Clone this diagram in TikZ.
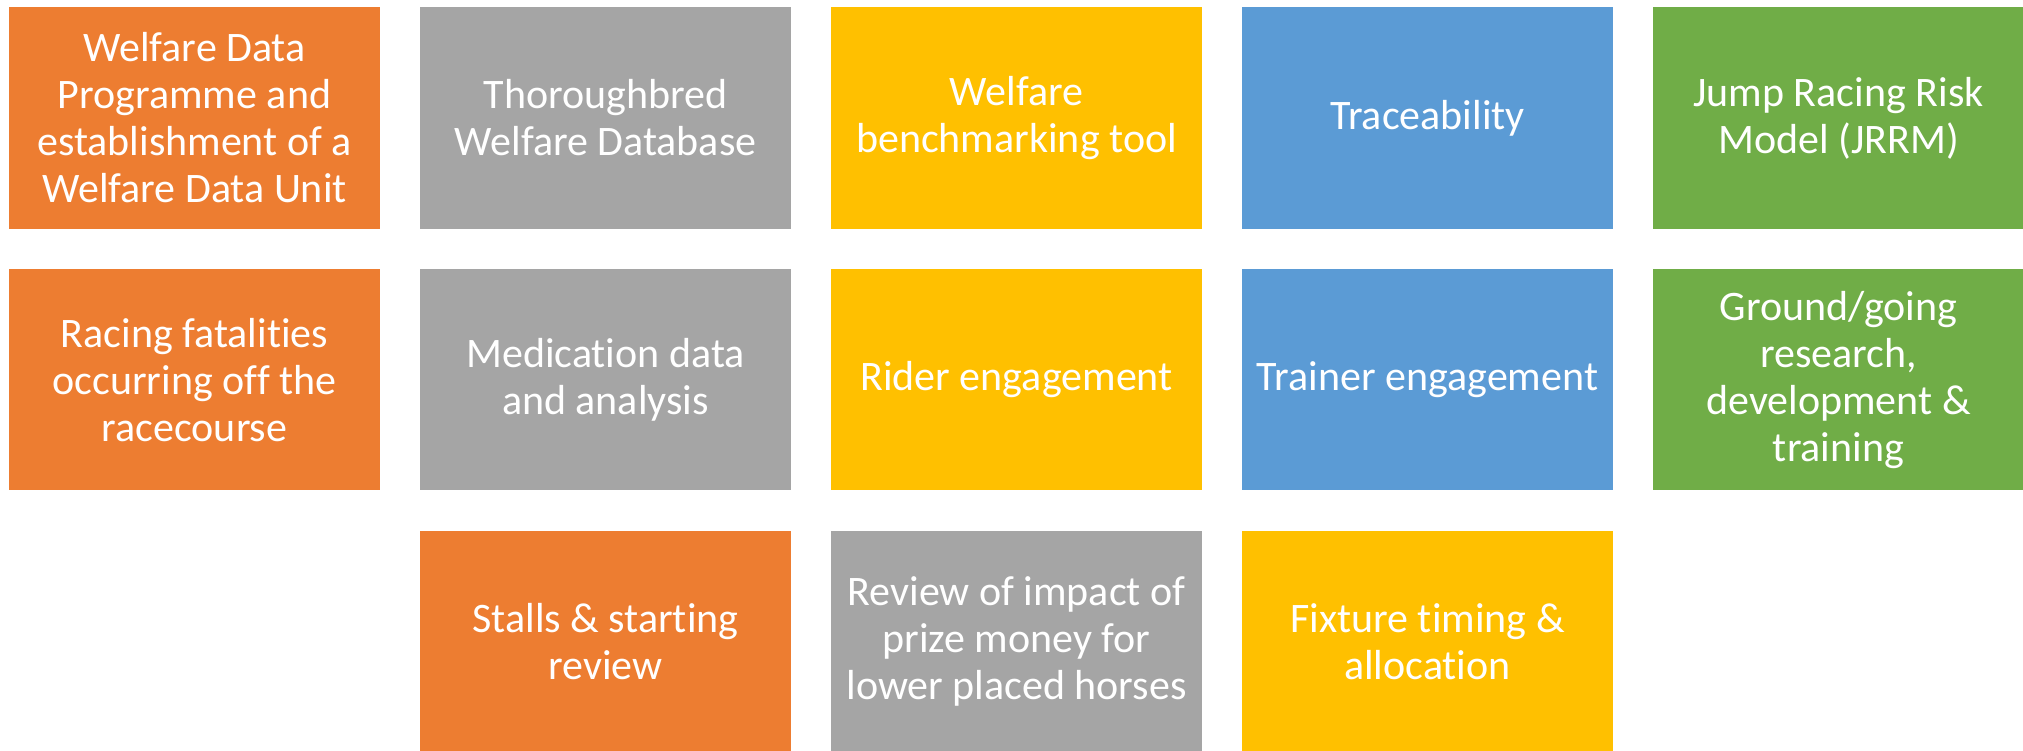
\documentclass[tikz,border=0pt]{standalone}
\usepackage{fontspec}
\setmainfont[Ligatures=NoCommon]{Carlito}
\definecolor{cOrange}{HTML}{ED7D31}
\definecolor{cGray}{HTML}{A5A5A5}
\definecolor{cYellow}{HTML}{FFC000}
\definecolor{cBlue}{HTML}{5B9BD5}
\definecolor{cGreen}{HTML}{70AD47}
\tikzset{
  tile/.style={rectangle, anchor=north west, inner sep=0pt, outer sep=0pt,
    minimum width=371pt, minimum height=221.4pt, align=center,
    text=white, font={\fontsize{42pt}{47pt}\selectfont}},
  torange/.style={tile, fill=cOrange},
  tgray/.style={tile, fill=cGray},
  tyellow/.style={tile, fill=cYellow},
  tblue/.style={tile, fill=cBlue},
  tgreen/.style={tile, fill=cGreen}
}
\begin{document}
\begin{tikzpicture}[x=1pt,y=1pt]
\useasboundingbox (0,0) rectangle (2023,-751);
\fill[white] (0,0) rectangle (2023,-751);
% row 1
\node[torange] (r1c1) at (9,-7.3) {Welfare Data\\Programme and\\establishment of a\\Welfare Data Unit};
\node[tgray]   (r1c2) at (420,-7.3) {Thoroughbred\\Welfare Database};
\node[tyellow] (r1c3) at (831,-7.3) {Welfare\\benchmarking tool};
\node[tblue]   (r1c4) at (1242,-7.3) {Traceability};
\node[tgreen]  (r1c5) at (1653,-7.3) {Jump Racing Risk\\Model (JRRM)};
% row 2
\node[torange] (r2c1) at (9,-269) {Racing fatalities\\occurring off the\\racecourse};
\node[tgray]   (r2c2) at (420,-269) {Medication data\\and analysis};
\node[tyellow] (r2c3) at (831,-269) {Rider engagement};
\node[tblue]   (r2c4) at (1242,-269) {Trainer engagement};
\node[tgreen]  (r2c5) at (1653,-269) {Ground/going\\research,\\development \&\\training};
% row 3
\node[torange] (r3c2) at (420,-530.7) {Stalls \& starting\\review};
\node[tgray]   (r3c3) at (831,-530.7) {Review of impact of\\prize money for\\lower placed horses};
\node[tyellow] (r3c4) at (1242,-530.7) {Fixture timing \&\\allocation};
\end{tikzpicture}
\end{document}
